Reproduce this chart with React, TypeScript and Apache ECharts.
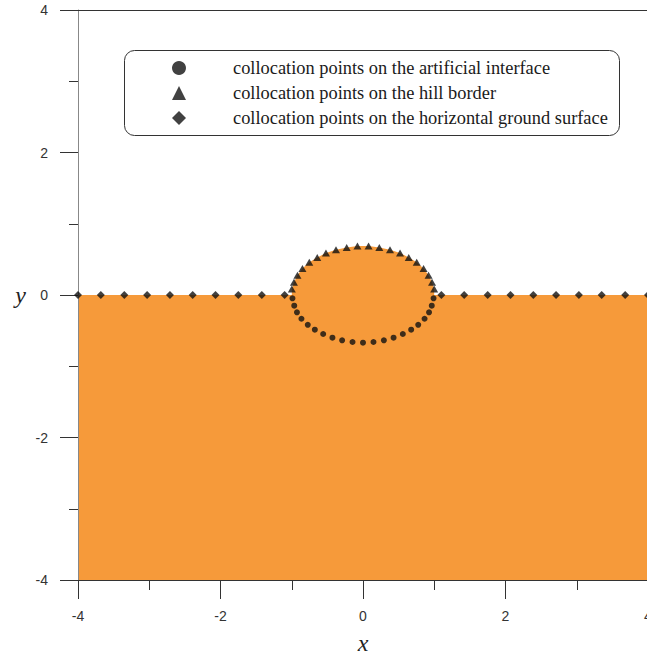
import React, { useEffect, useRef } from "react";
import * as echarts from "echarts";

// Axis ranges and tick spacing
const axisMin = -4;
const axisMax = 4;
const tickStep = 2;

// Legend / series names
const nameInterface = "collocation points on the artificial interface";
const nameHill = "collocation points on the hill border";
const nameGround = "collocation points on the horizontal ground surface";

// Collocation points on the artificial interface (lower half of the ellipse)
const interfaceX = [
  -0.99, -0.965, -0.927, -0.864, -0.775, -0.676, -0.559, -0.429, -0.293, -0.147, 0,
  0.147, 0.293, 0.429, 0.559, 0.676, 0.775, 0.864, 0.927, 0.965, 0.99,
];
const interfaceY = [
  -0.046, -0.15, -0.243, -0.333, -0.418, -0.487, -0.547, -0.599, -0.636, -0.66, -0.669,
  -0.66, -0.636, -0.599, -0.547, -0.487, -0.418, -0.333, -0.243, -0.15, -0.046,
];

// Collocation points on the hill border (upper half of the ellipse)
const hillX = [
  -0.999, -0.969, -0.92, -0.85, -0.754, -0.642, -0.52, -0.379, -0.229, -0.078,
  0.078, 0.229, 0.379, 0.52, 0.642, 0.754, 0.85, 0.92, 0.969, 0.999,
];
const hillY = [
  0.084, 0.178, 0.277, 0.372, 0.458, 0.526, 0.59, 0.634, 0.668, 0.688,
  0.688, 0.668, 0.634, 0.59, 0.526, 0.458, 0.372, 0.277, 0.178, 0.084,
];

// Collocation points on the horizontal ground surface
const groundX = [
  -4, -3.68, -3.35, -3.03, -2.71, -2.39, -2.07, -1.75, -1.42, -1.1,
  1.1, 1.42, 1.75, 2.07, 2.39, 2.71, 3.03, 3.35, 3.68, 4,
];
const groundY = [
  0, 0, 0, 0, 0, 0, 0, 0, 0, 0,
  0, 0, 0, 0, 0, 0, 0, 0, 0, 0,
];

const pairs = (xs: number[], ys: number[]) => xs.map((x, i) => [x, ys[i]]);

export default function App() {
  const ref = useRef<HTMLDivElement>(null);

  useEffect(() => {
    if (!ref.current) return;
    const chart = echarts.init(ref.current, null, { renderer: "svg" });

    // Soil half-space surface: ground line with the hill on top of it
    const surface = [
      [axisMin, 0],
      [hillX[0], 0],
      ...pairs(hillX, hillY),
      [hillX[hillX.length - 1], 0],
      [axisMax, 0],
    ];

    const ink = "#111111";
    const sans = "'Liberation Sans', Arial, sans-serif";
    const serif = "'Liberation Serif', 'Times New Roman', serif";

    chart.setOption({
      animation: false,
      backgroundColor: "#ffffff",
      grid: {
        left: 78,
        top: 10,
        width: 570,
        height: 570,
        containLabel: false,
        outerBoundsMode: "none",
      },
      xAxis: [
        {
          type: "value",
          position: "bottom",
          min: axisMin,
          max: axisMax,
          interval: tickStep,
          z: 3,
          axisLine: { show: true, onZero: false, lineStyle: { color: "#333", width: 1 } },
          axisTick: { show: true, inside: false, length: 19, lineStyle: { color: "#333", width: 1 } },
          minorTick: { show: true, splitNumber: 2, length: 10, lineStyle: { color: "#333", width: 1 } },
          splitLine: { show: false },
          minorSplitLine: { show: false },
          axisLabel: { margin: 29, fontSize: 14, color: "#333", fontFamily: sans },
          name: "x",
          nameLocation: "middle",
          nameGap: 51,
          nameTextStyle: { fontFamily: serif, fontStyle: "italic", fontSize: 24, color: "#222" },
        },
        {
          type: "value",
          position: "top",
          min: axisMin,
          max: axisMax,
          z: 3,
          axisLine: { show: true, onZero: false, lineStyle: { color: "#333", width: 1 } },
          axisTick: { show: false },
          axisLabel: { show: false },
          splitLine: { show: false },
        },
      ],
      yAxis: {
        type: "value",
        min: axisMin,
        max: axisMax,
        interval: tickStep,
        z: 3,
        axisLine: { show: true, onZero: false, lineStyle: { color: "#888", width: 1 } },
        axisTick: { show: true, inside: false, length: 18, lineStyle: { color: "#333", width: 1 } },
        minorTick: { show: true, splitNumber: 2, length: 9, lineStyle: { color: "#333", width: 1 } },
        splitLine: { show: false },
        minorSplitLine: { show: false },
        axisLabel: { margin: 30, fontSize: 14, color: "#333", fontFamily: sans },
        name: "y",
        nameLocation: "middle",
        nameRotate: 0,
        nameGap: 52,
        nameTextStyle: { fontFamily: serif, fontStyle: "italic", fontSize: 24, color: "#222" },
      },
      legend: {
        orient: "vertical",
        left: 172,
        top: 59,
        padding: 0,
        itemWidth: 14,
        itemHeight: 14,
        itemGap: 7,
        selectedMode: false,
        textStyle: {
          fontFamily: serif,
          fontSize: 18.4,
          color: "#1a1a1a",
          padding: [0, 0, 0, 42],
        },
        data: [
          { name: nameInterface, icon: "circle" },
          { name: nameHill, icon: "triangle" },
          { name: nameGround, icon: "diamond" },
        ],
      },
      graphic: [
        {
          type: "rect",
          z: 10,
          shape: { x: 124.5, y: 50.5, width: 495, height: 85, r: 10 },
          style: { fill: "none", stroke: "#333", lineWidth: 1 },
        },
      ],
      series: [
        {
          name: "soil",
          type: "line",
          data: surface,
          symbol: "none",
          silent: true,
          z: 1,
          lineStyle: { width: 0 },
          areaStyle: { color: "#f69a3a", opacity: 1, origin: "start" },
        },
        {
          name: nameInterface,
          type: "scatter",
          symbol: "circle",
          symbolSize: 6,
          z: 4,
          itemStyle: { color: ink },
          data: pairs(interfaceX, interfaceY),
        },
        {
          name: nameHill,
          type: "scatter",
          symbol: "triangle",
          symbolSize: [8, 7],
          z: 4,
          itemStyle: { color: ink },
          data: pairs(hillX, hillY),
        },
        {
          name: nameGround,
          type: "scatter",
          symbol: "diamond",
          symbolSize: 8,
          z: 4,
          itemStyle: { color: ink },
          data: pairs(groundX, groundY),
        },
      ],
    });

    return () => chart.dispose();
  }, []);

  return (
    <div
      ref={ref}
      style={{ position: "absolute", left: 0, top: 0, width: 647, height: 663 }}
    />
  );
}
